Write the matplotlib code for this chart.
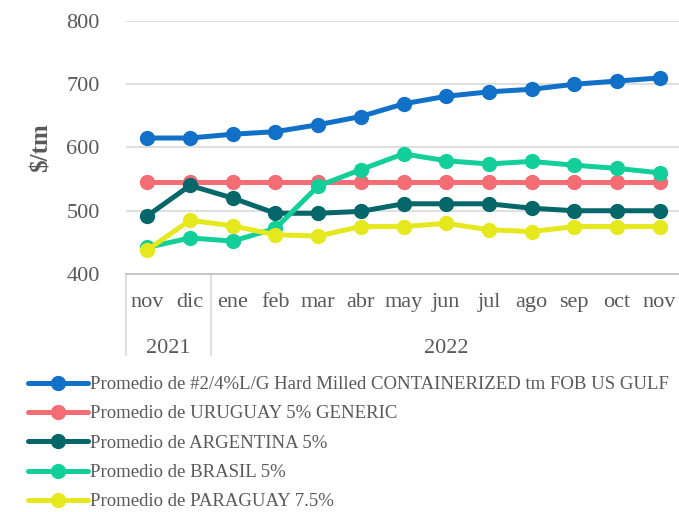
import matplotlib
matplotlib.use('Agg')
import matplotlib.pyplot as plt
import matplotlib.transforms as mtransforms

plt.rcParams['font.family'] = ['Liberation Serif', 'DejaVu Serif']

MONTHS = ['nov', 'dic', 'ene', 'feb', 'mar', 'abr', 'may', 'jun', 'jul', 'ago', 'sep', 'oct', 'nov']
YEARS = ['2021', '2022']
YEAR_SPANS = [(0, 1), (2, 12)]

us_gulf   = [615, 615, 621, 625, 636, 649, 669, 681, 688, 692, 700, 705, 710]
uruguay   = [545, 545, 545, 545, 545, 545, 545, 545, 545, 545, 545, 545, 545]
argentina = [492, 540, 520, 496, 496, 499, 511, 511, 511, 504, 500, 500, 500]
brasil    = [442, 457, 452, 472, 539, 565, 590, 579, 574, 578, 572, 567, 560]
paraguay  = [438, 485, 476, 462, 460, 475, 475, 480, 470, 467, 475, 475, 475]

SERIES = [
    ('Promedio de #2/4%L/G Hard Milled CONTAINERIZED tm FOB US GULF', us_gulf, '#1170C8'),
    ('Promedio de URUGUAY 5% GENERIC', uruguay, '#F46D75'),
    ('Promedio de ARGENTINA 5%', argentina, '#05676A'),
    ('Promedio de BRASIL 5%', brasil, '#12CF9A'),
    ('Promedio de PARAGUAY 7.5%', paraguay, '#E6E81E'),
]

TEXT = '#595959'
GRID = '#d9d9d9'

fig = plt.figure(figsize=(6.79, 5.12), dpi=100)
ax = fig.add_axes([126 / 679, 1 - 274 / 512, 555 / 679, 253 / 512])

x = list(range(len(MONTHS)))
for label, vals, color in SERIES:
    ax.plot(x, vals, color=color, linewidth=3.6, marker='o', markersize=10,
            label=label, solid_capstyle='round')

ax.set_xlim(-0.5, len(MONTHS) - 0.5)
ax.set_ylim(400, 800)
ax.set_yticks([400, 500, 600, 700, 800])
ax.yaxis.grid(True, color=GRID, linewidth=1.2)
ax.set_axisbelow(True)
for side in ['top', 'right', 'left']:
    ax.spines[side].set_visible(False)
ax.spines['bottom'].set_color('#bfbfbf')
ax.spines['bottom'].set_linewidth(1.2)
ax.tick_params(axis='y', length=0, pad=19, labelsize=16, labelcolor=TEXT)
ax.set_xticks(x)
ax.set_xticklabels(MONTHS)
ax.tick_params(axis='x', length=0, pad=14, labelsize=16, labelcolor=TEXT)
ax.set_ylabel('$/tm', fontsize=18, fontweight='bold', color=TEXT, labelpad=10)

# year level of the category axis
trans = mtransforms.blended_transform_factory(ax.transData, ax.transAxes)
for xs in [-0.5, 1.5]:
    ax.plot([xs, xs], [0, -0.32], transform=trans, color=GRID, linewidth=1.2,
            clip_on=False)
for year, (a, b) in zip(YEARS, YEAR_SPANS):
    ax.text((a + b) / 2, -0.295, year, transform=trans, ha='center', va='center',
            fontsize=16, color=TEXT)

fig.legend(loc='upper left', bbox_to_anchor=(28 / 679, 1 - 376 / 512),
           frameon=False, fontsize=13.5, labelcolor=TEXT, handlelength=3.2,
           handletextpad=0.1, labelspacing=0.65, borderaxespad=0, borderpad=0)

fig.savefig('out.png', dpi=100, facecolor='white')
